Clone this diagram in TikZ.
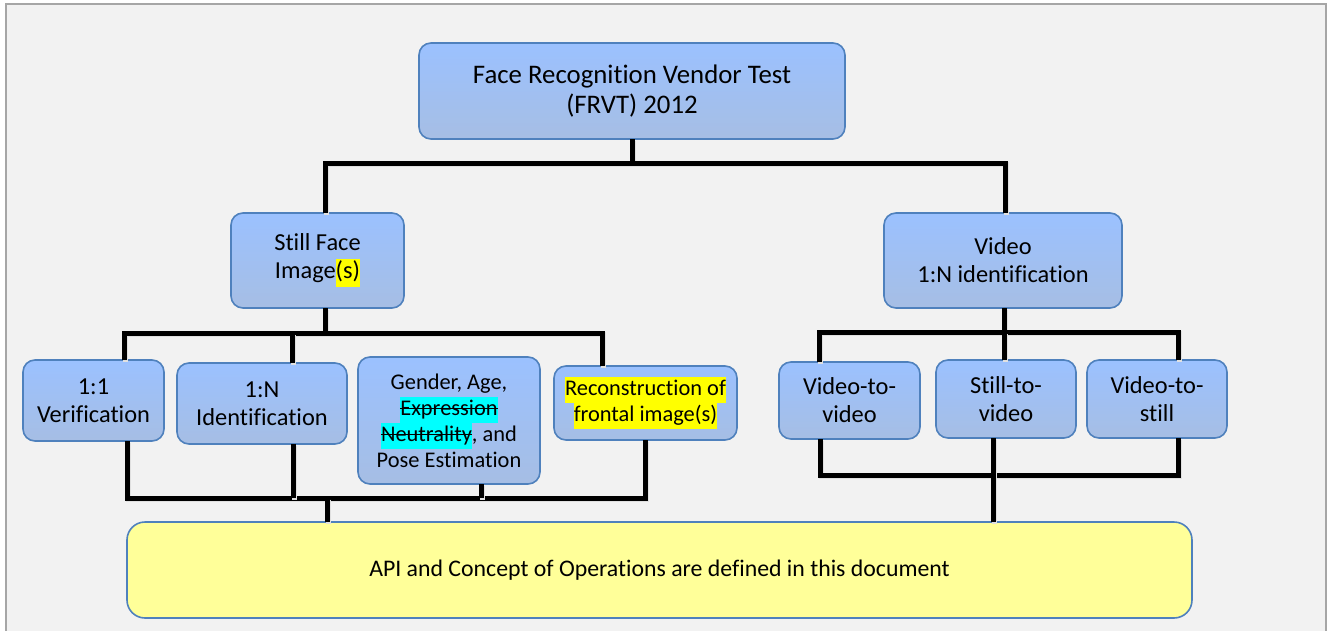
\documentclass[tikz,border=0pt]{standalone}
\usepackage{fontspec}
\setmainfont{Carlito}[Ligatures=NoCommon]
\definecolor{bggray}{RGB}{242,242,242}
\definecolor{framegray}{RGB}{166,166,166}
\definecolor{boxtop}{RGB}{155,193,255}
\definecolor{boxbot}{RGB}{166,190,228}
\definecolor{boxline}{RGB}{79,129,189}
\definecolor{apifill}{RGB}{255,255,153}
\definecolor{hlyellow}{RGB}{255,255,0}
\definecolor{hlcyan}{RGB}{0,255,255}
\newcommand\hlt[2]{{\setlength{\fboxsep}{0pt}\colorbox{#1}{\strut #2}}}
\newcommand\strk[1]{\setbox0=\hbox{#1}\rlap{\rule[0.26em]{\wd0}{0.5pt}}\box0}

\begin{document}
\begin{tikzpicture}
        [x=0.5pt,y=-0.5pt,
        box/.style={rectangle, rounded corners=6pt, draw=boxline, line width=0.8pt,
                    top color=boxtop, bottom color=boxbot, inner sep=0pt, outer sep=0pt,
                    align=center, font=\fontsize{12.2}{14}\selectfont},
        apibox/.style={rectangle, rounded corners=9pt, draw=boxline, line width=0.8pt,
                    fill=apifill, inner sep=0pt, outer sep=0pt,
                    font=\fontsize{11.9}{14}\selectfont},
        conn/.style={line width=2.5pt,
                    preaction={draw=black!12, line width=2.5pt,
                               transform canvas={shift={(0.8pt,-0.8pt)}}}}]
        \useasboundingbox (0,0) rectangle (1327,631);
        \fill[white] (0,0) rectangle (1327,631);
        \fill[bggray] (6,4) rectangle (1326,631);
        \draw[framegray, line width=0.75pt] (6,631) -- (6,4) -- (1326,4) -- (1326,631);

        % boxes
        \node[box, minimum width=213pt, minimum height=48pt, font=\fontsize{13.4}{15}\selectfont]
            (frvt) at (632,91) {Face Recognition Vendor Test\\(FRVT) 2012};
        \node[box, minimum width=86.5pt, minimum height=47.5pt] (still) at (317.5,260.5)
            {Still Face\\Image\hlt{hlyellow}{(s)}};
        \node[box, minimum width=119pt, minimum height=47.5pt] (video) at (1003,260.5)
            {Video\\1:N identification};
        \node[box, minimum width=70.5pt, minimum height=40.5pt] (verif) at (93.5,400.5)
            {1:1\\Verification};
        \node[box, minimum width=85pt, minimum height=40.5pt] (ident) at (262,403.5)
            {1:N\\Identification};
        \node[box, minimum width=91pt, minimum height=63.5pt, font=\fontsize{11.2}{13}\selectfont]
            (gender) at (449,420.5)
            {Gender, Age,\\\hlt{hlcyan}{\strk{Expression}}\\\hlt{hlcyan}{\strk{Neutrality}}, and\\Pose Estimation};
        \node[box, minimum width=91.5pt, minimum height=37pt, font=\fontsize{11.2}{13}\selectfont]
            (recon) at (645.5,403)
            {\hlt{hlyellow}{Reconstruction of}\\\hlt{hlyellow}{frontal image(s)}};
        \node[box, minimum width=70.5pt, minimum height=38.5pt] (vidvid) at (849.5,400.5)
            {Video-to-\\video};
        \node[box, minimum width=70pt, minimum height=39pt] (stillvid) at (1006,399)
            {Still-to-\\video};
        \node[box, minimum width=70pt, minimum height=39pt] (vidstill) at (1157,399)
            {Video-to-\\still};
        \node[apibox, minimum width=532.5pt, minimum height=48pt] (api) at (659.5,570)
            {API and Concept of Operations are defined in this document};

        % junctions
        \coordinate (ja) at (632,163);
        \coordinate (jal) at (325,163);
        \coordinate (jar) at (1005,163);
        \coordinate (jb) at (325,333);
        \coordinate (jbl) at (124,333);
        \coordinate (jbm) at (292,333);
        \coordinate (jbr) at (602,333);
        \coordinate (jc) at (327,498);
        \coordinate (jcl) at (127,498);
        \coordinate (jc1) at (293,498);
        \coordinate (jc2) at (481,498);
        \coordinate (jcr) at (645,498);
        \coordinate (jd) at (1004,332);
        \coordinate (jdl) at (819,332);
        \coordinate (jdr) at (1178,332);
        \coordinate (je) at (993,475);
        \coordinate (jel) at (820,475);
        \coordinate (jer) at (1178,475);

        % connectors
        \draw[conn] (frvt.south) -- (ja);
        \draw[conn] (still.north -| jal) |- (jar) -- (video.north -| jar);
        \draw[conn] (still.south -| jb) -- (jb);
        \draw[conn] (verif.north -| jbl) |- (jbr) -- (recon.north -| jbr);
        \draw[conn] (ident.north -| jbm) -- (jbm);
        \draw[conn] (verif.south -| jcl) |- (jcr) -- (recon.south -| jcr);
        \draw[conn] (ident.south -| jc1) -- (jc1);
        \draw[conn] (gender.south -| jc2) -- (jc2);
        \draw[conn] (jc) -- (api.north -| jc);
        \draw[conn] (video.south -| jd) -- (jd);
        \draw[conn] (vidvid.north -| jdl) |- (jdr) -- (vidstill.north -| jdr);
        \draw[conn] (stillvid.north -| jd) -- (jd);
        \draw[conn] (vidvid.south -| jel) |- (jer) -- (vidstill.south -| jer);
        \draw[conn] (stillvid.south -| je) -- (api.north -| je);
\end{tikzpicture}
\end{document}
